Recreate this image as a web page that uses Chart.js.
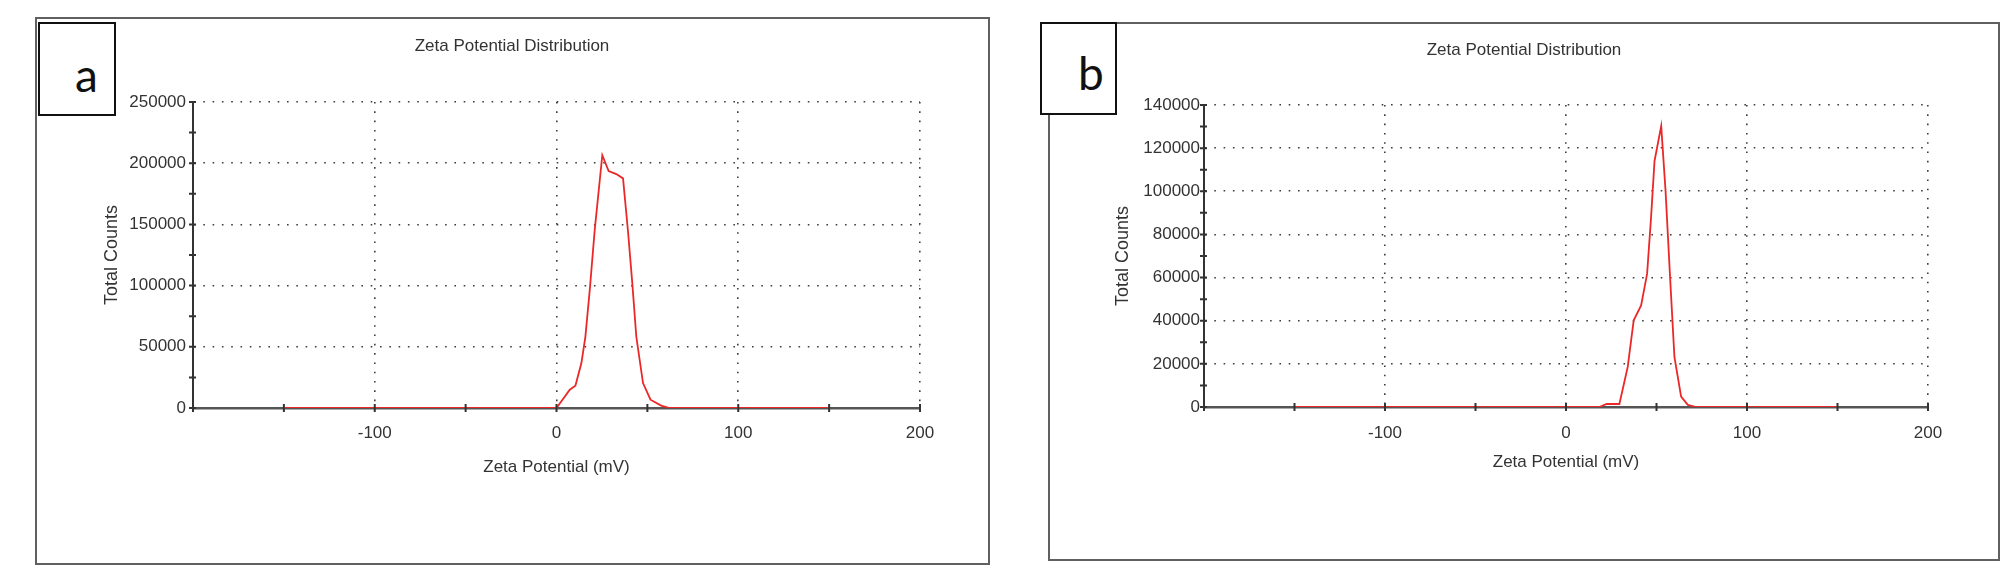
<!DOCTYPE html>
<html>
<head>
<meta charset="utf-8">
<title>Zeta Potential Distribution</title>
<script src="https://cdn.jsdelivr.net/npm/chart.js@4.4.1/dist/chart.umd.min.js"></script>
<style>
  html, body { margin: 0; padding: 0; background: #fff; }
  body { width: 2008px; height: 579px; position: relative; overflow: hidden;
         font-family: "Liberation Sans", Arial, sans-serif; }
  .panel { position: absolute; border: 2px solid #606060; box-sizing: border-box; }
  canvas { position: absolute; }
  .ptitle { position: absolute; font-size: 17px; color: #333; white-space: nowrap;
            transform: translate(-50%, -50%); }
  .tag { position: absolute; border: 2px solid #111; background: #fff; box-sizing: border-box; }
  .tag span { position: absolute; font-family: Lato, "Open Sans", sans-serif;
              font-size: 46px; line-height: 46px; color: #111; }
</style>
</head>
<body>

<div class="panel" style="left:35px; top:17px; width:955px; height:548px;"></div>
<div class="panel" style="left:1048px; top:22px; width:952px; height:539px;"></div>

<canvas id="chartA" width="953" height="546" style="left:36px; top:18px; width:953px; height:546px;"></canvas>
<canvas id="chartB" width="950" height="537" style="left:1049px; top:23px; width:950px; height:537px;"></canvas>

<div class="ptitle" style="left:512px; top:46px;">Zeta Potential Distribution</div>
<div class="ptitle" style="left:1524px; top:50px;">Zeta Potential Distribution</div>

<div class="tag" style="left:38px; top:22px; width:78px; height:94px;"><span style="left:35px; top:28px;">a</span></div>
<div class="tag" style="left:1040px; top:22px; width:77px; height:93px;"><span style="left:36px; top:26px;">b</span></div>

<script>
// ====== DATA ======
// panel a
const zetaA   = [-150, 0, 7.3, 10.4, 13.7, 15.9, 18.3, 21.0, 25.2, 28.7, 32.9, 36.6, 39.3, 41.7, 43.9, 47.6, 51.7, 57.6, 62.2, 150];
const countsA = [0, 0, 14900, 18200, 36700, 58400, 96500, 145000, 206600, 193600, 191100, 187600, 145000, 102000, 58400, 20400, 6800, 2000, 0, 0];

// panel b
const zetaB   = [-150, 18.4, 22.5, 29.5, 34.1, 37.4, 41.5, 44.8, 47.0, 48.9, 52.6, 55.0, 57.5, 59.9, 63.6, 67.3, 71.9, 150];
const countsB = [0, 0, 1400, 1400, 18600, 40200, 47100, 61700, 87900, 114000, 130200, 100200, 60200, 23200, 4800, 1000, 0, 0];

const X_MIN = -200, X_MAX = 200, X_STEP = 50, X_LABEL_STEP = 100;

const TITLE_X = 'Zeta Potential (mV)';
const TITLE_Y = 'Total Counts';

// ====== HELPERS ======
const FONT = '"Liberation Sans", Arial, sans-serif';
const TEXT = '#333';
const GRID = 'rgba(40,40,40,0.9)';
const NONE = 'rgba(0,0,0,0)';

// short tick marks that cross the axis lines
const crossTicks = {
  id: 'crossTicks',
  afterDatasetsDraw(chart) {
    const { ctx, chartArea, scales: { x, y } } = chart;
    ctx.save();
    ctx.strokeStyle = '#333';
    ctx.lineWidth = 2;
    ctx.beginPath();
    x.ticks.forEach(t => {
      const px = x.getPixelForValue(t.value);
      ctx.moveTo(px, chartArea.bottom - 4);
      ctx.lineTo(px, chartArea.bottom + 4);
    });
    y.ticks.forEach(t => {
      const py = y.getPixelForValue(t.value);
      ctx.moveTo(chartArea.left - 4, py);
      ctx.lineTo(chartArea.left + 3, py);
    });
    ctx.stroke();
    ctx.restore();
  }
};

function makeChart(id, xs, ys, cfg) {
  const points = xs.map((v, i) => ({ x: v, y: ys[i] }));
  return new Chart(document.getElementById(id), {
    type: 'line',
    data: {
      datasets: [{
        data: points,
        borderColor: 'rgb(235,40,40)',
        borderWidth: 1.8,
        pointRadius: 0,
        tension: 0,
        fill: false
      }]
    },
    options: {
      responsive: false,
      animation: false,
      events: [],
      layout: { padding: cfg.padding },
      plugins: { legend: { display: false }, tooltip: { enabled: false }, title: { display: false } },
      scales: {
        x: {
          type: 'linear',
          min: X_MIN, max: X_MAX,
          afterFit: s => { s.height = 80; },
          // border.dash is what dashes the grid lines in v4; the axis line itself stays solid
          border: { display: true, color: '#555', width: 2.5, dash: [1.6, 7.7] },
          grid: {
            drawTicks: false,
            lineWidth: 1.6,
            color: c => (c.tick && c.tick.value % X_LABEL_STEP === 0 && c.tick.value !== X_MIN) ? GRID : NONE
          },
          ticks: {
            stepSize: X_STEP,
            autoSkip: false,
            maxRotation: 0,
            padding: cfg.xTickPad,
            color: TEXT,
            font: { family: FONT, size: 17 },
            callback: v => (v % X_LABEL_STEP === 0 && v !== X_MIN) ? String(v) : ''
          },
          title: {
            display: true, text: TITLE_X, color: TEXT,
            font: { family: FONT, size: 17 },
            padding: { top: 0, bottom: cfg.xTitlePad }
          }
        },
        y: {
          type: 'linear',
          min: 0, max: cfg.yMax,
          afterFit: s => { s.width = cfg.yWidth; },
          border: { display: true, color: '#333', width: 2, dash: [1.6, 7.7] },
          grid: {
            drawTicks: false,
            lineWidth: 1.6,
            color: c => (c.tick && c.tick.value % cfg.yLabelStep === 0 && c.tick.value !== 0) ? GRID : NONE
          },
          ticks: {
            stepSize: cfg.yStep,
            autoSkip: false,
            padding: cfg.yTickPad,
            color: TEXT,
            font: { family: FONT, size: 17 },
            callback: v => (v % cfg.yLabelStep === 0) ? String(v) : ''
          },
          title: {
            display: true, text: TITLE_Y, color: TEXT,
            font: { family: FONT, size: 18 },
            padding: { top: cfg.yTitlePad, bottom: 0 }
          }
        }
      }
    },
    plugins: [crossTicks]
  });
}

// ====== CHARTS ======
makeChart('chartA', zetaA, countsA, {
  yMax: 250000, yStep: 25000, yLabelStep: 50000,
  yWidth: 157, padding: { left: 0, right: 69, top: 84, bottom: 76 },
  xTickPad: 15, xTitlePad: 10, yTickPad: 7, yTitlePad: 65
});

makeChart('chartB', zetaB, countsB, {
  yMax: 140000, yStep: 10000, yLabelStep: 20000,
  yWidth: 155, padding: { left: 0, right: 71, top: 82, bottom: 73 },
  xTickPad: 16, xTitlePad: 14, yTickPad: 4, yTitlePad: 63
});
</script>
</body>
</html>
